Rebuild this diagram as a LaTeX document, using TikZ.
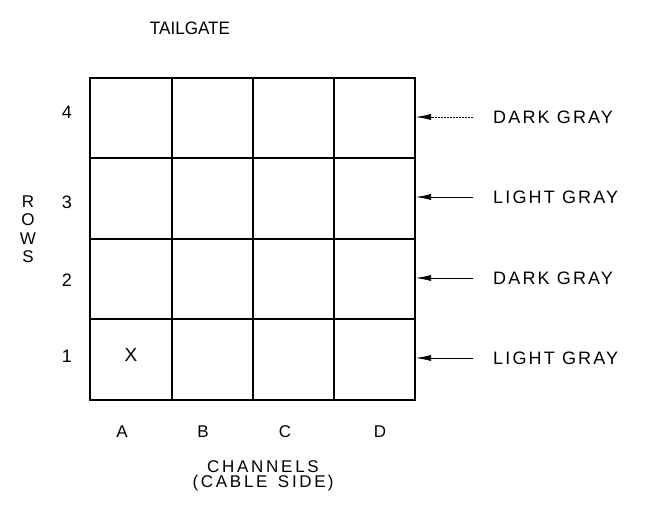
\documentclass[tikz,border=0pt]{standalone}
\usepackage{fontspec}
\setmainfont{Liberation Sans}
\newfontfamily\spaced[LetterSpace=12]{Liberation Sans}
\newfontfamily\wide[LetterSpace=16]{Liberation Sans}
\usetikzlibrary{arrows.meta}
\begin{document}
\begin{tikzpicture}[x=1pt,y=-1pt,
  outer/.style={line width=1.6pt},
  inner/.style={line width=1.2pt},
  lbl/.style={font=\spaced\fontsize{18}{20}\selectfont, anchor=west, inner sep=0pt},
  txt/.style={font=\fontsize{17}{19}\selectfont, inner sep=0pt},
  num/.style={font=\fontsize{18}{20}\selectfont, inner sep=0pt},
  arr/.style={line width=0.7pt, -{Latex[length=15pt,width=6pt]}},
  dotarr/.style={arr, dash pattern=on 2pt off 1pt, line width=0.6pt}]
\useasboundingbox (0,0) rectangle (653,507);
% grid
\foreach \x in {172,253,334} \draw[inner] (\x,78) -- (\x,400);
\foreach \y in {158,239,319} \draw[inner] (90,\y) -- (415,\y);
\draw[outer] (90,78) rectangle (415,400);
% title
\node[txt, font=\fontsize{18}{20}\selectfont] (title) at (190,28) {\scalebox{0.95}[1]{TAILGATE}};
% row numbers
\node[num] (r4) at (67,112) {4};
\node[num] (r3) at (67,202) {3};
\node[num] (r2) at (67,280) {2};
\node[num] (r1) at (67,356) {1};
% ROWS
\node[txt] (rR) at (28,202) {R};
\node[txt] (rO) at (28,220) {O};
\node[txt] (rW) at (28,239) {W};
\node[txt] (rS) at (28,257) {S};
% columns
\node[txt] (cA) at (122,432) {A};
\node[txt] (cB) at (203,432) {B};
\node[txt] (cC) at (285,432) {C};
\node[txt] (cD) at (380,432) {D};
\node[txt, font=\wide\fontsize{17}{15}\selectfont, align=center] (ch) at (263,476)
  {CHANNELS\\(CABLE\hspace{3pt} SIDE\hspace{2pt})};
% X
\node[txt, font=\fontsize{19}{21}\selectfont] (xm) at (131,355) {X};
% labels
\node[lbl] (l4) at (493,117) {DARK GRAY};
\node[lbl] (l3) at (493,197) {LIGHT GRAY};
\node[lbl] (l2) at (493,278) {DARK GRAY};
\node[lbl] (l1) at (493,358) {LIGHT GRAY};
% arrow ends
\coordinate (t4) at (473,117); \coordinate (h4) at (416,117);
\coordinate (t3) at (473,197); \coordinate (h3) at (416,197);
\coordinate (t2) at (473,278); \coordinate (h2) at (416,278);
\coordinate (t1) at (473,358); \coordinate (h1) at (416,358);
\draw[dotarr] (t4) -- (h4);
\draw[arr] (t3) -- (h3);
\draw[arr] (t2) -- (h2);
\draw[arr] (t1) -- (h1);
\end{tikzpicture}
\end{document}
